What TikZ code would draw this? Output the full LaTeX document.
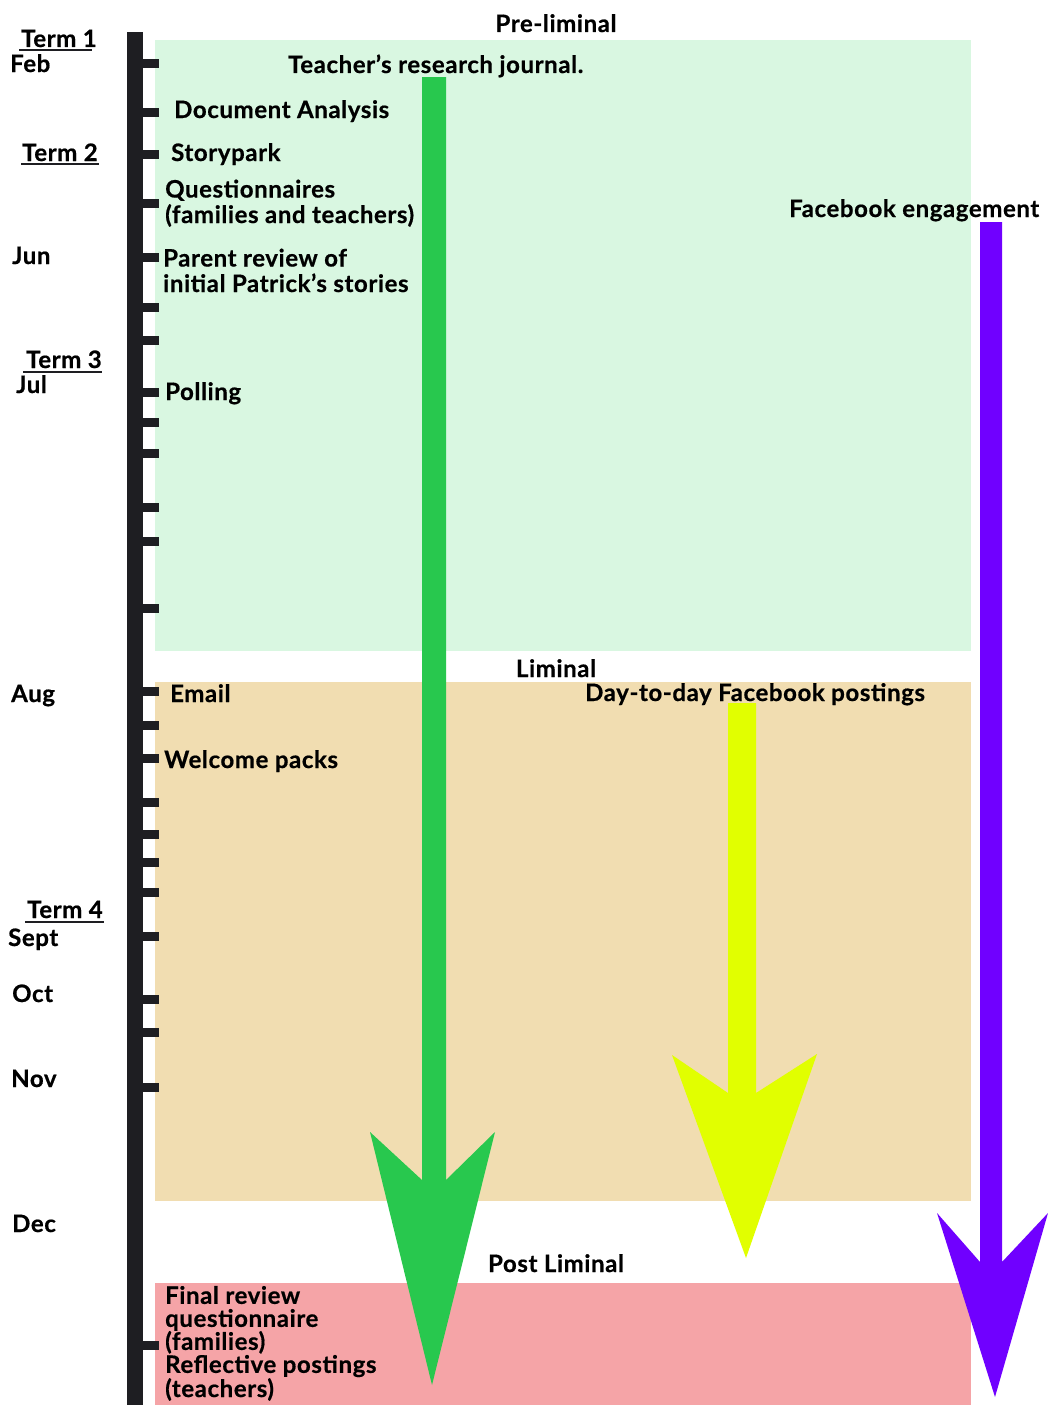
\documentclass[tikz,border=0pt]{standalone}
\usepackage{fontspec}
\setmainfont{Lato}[LetterSpace=2.5,BoldFeatures={FakeBold=0.6}]
\definecolor{preC}{HTML}{D9F7E1}
\definecolor{limC}{HTML}{F1DDB1}
\definecolor{postC}{HTML}{F5A4A7}
\definecolor{arrG}{HTML}{28C84E}
\definecolor{arrY}{HTML}{E1FF00}
\definecolor{arrP}{HTML}{7000FF}
\definecolor{barC}{HTML}{1E1E22}
\begin{document}
\begin{tikzpicture}[x=1pt,y=-1pt,
  lbl/.style={anchor=base west,inner sep=0pt,font=\fontsize{24}{26}\selectfont\bfseries,text=black},
  mlbl/.style={lbl,align=left},
  month/.style={lbl},
  termlbl/.style={lbl},
  phase/.style={anchor=base,inner sep=0pt,font=\fontsize{24}{26}\selectfont\bfseries},
  tick/.style={fill=barC},
  uline/.style={draw=barC,line width=1.6pt}]
\useasboundingbox (0,0) rectangle (1048,1405);
\fill[white] (0,0) rectangle (1048,1405);
% phase regions
\fill[preC] (155,40) rectangle (971,651);
\fill[limC] (155,682) rectangle (971,1201);
\fill[postC] (155,1283) rectangle (971,1405);
% time bar
\fill[barC] (127,32) rectangle (143,1405);
\foreach \t in {64,112,154,203,257,307,340,392,422,453,507,541,608,691,725,758,802,834,862,892,936,999,1032,1087,1345}
  \fill[tick] (142,\t-4.5) rectangle (159,\t+4.5);
% phase labels
\node[phase] (pre) at (556,32) {Pre-liminal};
\node[phase] (lim) at (556,677) {Liminal};
\node[phase] (post) at (556,1272) {Post Liminal};
% term / month labels
\node[termlbl] (t1) at (21,47) {Term 1};
\draw[uline] (19,50) -- (92,50);
\node[month] (feb) at (10,72) {Feb};
\node[termlbl] (t2) at (22,161) {Term 2};
\draw[uline] (21,164) -- (99,164);
\node[month] (jun) at (12,264) {Jun};
\node[termlbl] (t3) at (26,368) {Term 3};
\draw[uline] (23,372) -- (102,372);
\node[month] (jul) at (16,393) {Jul};
\node[month] (aug) at (11,702) {Aug};
\node[termlbl] (t4) at (27,918) {Term 4};
\draw[uline] (25,922) -- (104,922);
\node[month] (sept) at (8,946) {Sept};
\node[month] (oct) at (12,1002) {Oct};
\node[month] (nov) at (11,1087) {Nov};
\node[month] (dec) at (12,1232) {Dec};
% arrows
\fill[arrG] (422,77) -- (446,77) -- (446,1180) -- (495,1132) -- (432,1385) -- (370,1132) -- (422,1180) -- cycle;
\fill[arrY] (728,703) -- (756,703) -- (756,1093) -- (817,1054) -- (746,1258) -- (672,1055) -- (728,1093) -- cycle;
\fill[arrP] (980,222) -- (1002,222) -- (1002,1262) -- (1048,1213) -- (995,1397) -- (937,1213) -- (980,1262) -- cycle;
% event labels
\node[lbl] (journal) at (288,73) {Teacher’s research journal.};
\node[lbl] (doc) at (174,118) {Document Analysis};
\node[lbl] (story) at (171,161) {Storypark};
\node[mlbl,font=\fontsize{24}{25.5}\selectfont\bfseries] (quest) at (165,223) {Questionnaires\\(families and teachers)};
\node[mlbl,font=\fontsize{24}{25.5}\selectfont\bfseries] (parent) at (163,292) {Parent review of\\initial Patrick’s stories};
\node[lbl] (poll) at (165,400) {Polling};
\node[lbl] (email) at (170,702) {Email};
\node[lbl] (welcome) at (164,768) {Welcome packs};
\node[lbl] (fb) at (789,217) {Facebook engagement};
\node[lbl] (daily) at (585,701) {Day-to-day Facebook postings};
\node[mlbl,font=\fontsize{24}{23}\selectfont\bfseries] (final) at (165,1397) {Final review\\questionnaire\\(families)\\Reflective postings\\(teachers)};
\end{tikzpicture}
\end{document}
